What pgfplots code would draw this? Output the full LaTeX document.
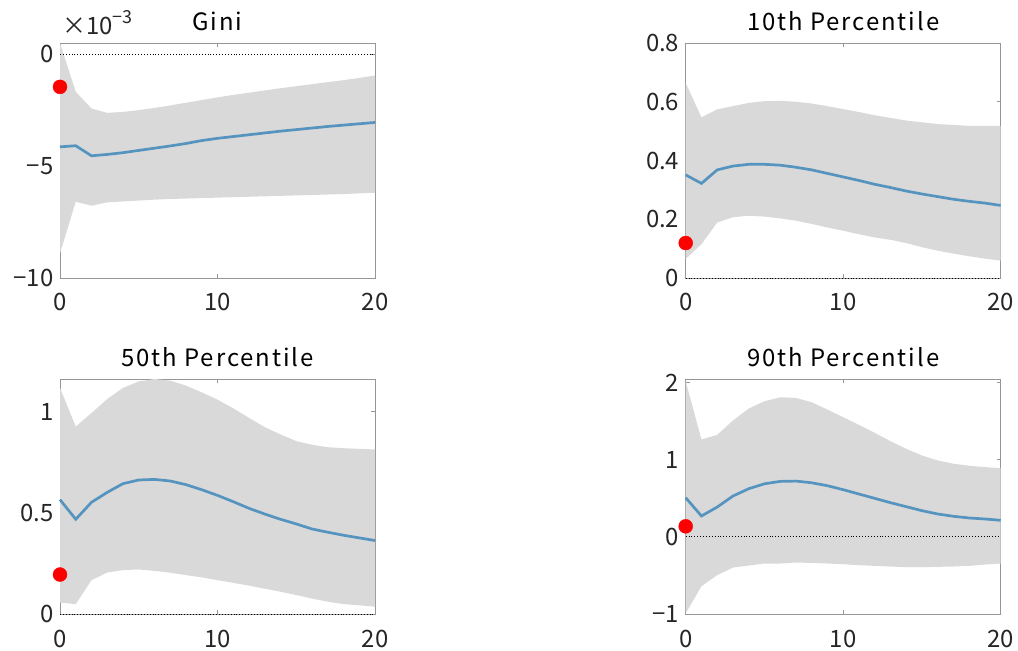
\documentclass[border=0pt]{standalone}
\usepackage{pgfplots}
\pgfplotsset{compat=1.18}
\usepgfplotslibrary{fillbetween}
\usepackage{pgfplotstable}
\usepackage{fontspec}
\setmainfont{Noto Sans CJK JP}

\definecolor{bandgray}{RGB}{217,217,217}
\definecolor{irf}{RGB}{86,148,192}
\definecolor{boxgray}{RGB}{150,150,150}
\definecolor{txt}{RGB}{38,38,38}

% impulse responses: horizon, lower band, median, upper band
% Gini in units of 1e-3
\pgfplotstableread{
t  lo     mid    hi
0  -8.90  -4.14  0.50
1  -6.59  -4.09  -1.68
2  -6.77  -4.54  -2.43
3  -6.62  -4.48  -2.62
4  -6.58  -4.40  -2.58
5  -6.54  -4.30  -2.50
6  -6.50  -4.20  -2.40
7  -6.47  -4.10  -2.29
8  -6.45  -3.99  -2.17
9  -6.43  -3.86  -2.05
10 -6.41  -3.76  -1.93
11 -6.39  -3.68  -1.82
12 -6.37  -3.60  -1.72
13 -6.35  -3.52  -1.62
14 -6.33  -3.44  -1.52
15 -6.31  -3.37  -1.43
16 -6.29  -3.30  -1.34
17 -6.27  -3.23  -1.25
18 -6.25  -3.17  -1.16
19 -6.22  -3.11  -1.06
20 -6.19  -3.05  -0.95
}\gini

\pgfplotstableread{
t  lo     mid    hi
0  0.065  0.351  0.664
1  0.115  0.322  0.547
2  0.189  0.368  0.574
3  0.207  0.381  0.585
4  0.212  0.387  0.596
5  0.209  0.387  0.602
6  0.203  0.384  0.603
7  0.195  0.377  0.600
8  0.184  0.368  0.594
9  0.172  0.356  0.585
10 0.161  0.344  0.575
11 0.149  0.332  0.565
12 0.138  0.319  0.554
13 0.130  0.308  0.545
14 0.119  0.296  0.536
15 0.105  0.286  0.530
16 0.093  0.277  0.524
17 0.083  0.268  0.521
18 0.074  0.261  0.518
19 0.066  0.255  0.518
20 0.059  0.247  0.518
}\ptenth

\pgfplotstableread{
t  lo     mid    hi
0  0.056  0.565  1.117
1  0.049  0.468  0.926
2  0.167  0.552  0.993
3  0.205  0.601  1.062
4  0.217  0.644  1.117
5  0.220  0.662  1.149
6  0.213  0.665  1.161
7  0.204  0.657  1.153
8  0.192  0.639  1.128
9  0.181  0.614  1.095
10 0.167  0.586  1.059
11 0.154  0.555  1.016
12 0.140  0.522  0.969
13 0.125  0.494  0.923
14 0.110  0.468  0.887
15 0.094  0.445  0.854
16 0.076  0.420  0.836
17 0.061  0.404  0.824
18 0.049  0.389  0.819
19 0.043  0.376  0.816
20 0.036  0.363  0.813
}\pfiftieth

\pgfplotstableread{
t  lo      mid    hi
0  -0.993  0.509  2.020
1  -0.639  0.272  1.265
2  -0.496  0.388  1.325
3  -0.397  0.531  1.511
4  -0.371  0.626  1.666
5  -0.345  0.690  1.761
6  -0.345  0.721  1.813
7  -0.332  0.725  1.804
8  -0.337  0.703  1.748
9  -0.345  0.665  1.653
10 -0.354  0.613  1.554
11 -0.367  0.557  1.454
12 -0.375  0.501  1.351
13 -0.384  0.445  1.243
14 -0.393  0.393  1.144
15 -0.393  0.341  1.057
16 -0.388  0.298  0.993
17 -0.384  0.268  0.950
18 -0.375  0.246  0.924
19 -0.358  0.233  0.906
20 -0.345  0.216  0.893
}\pninetieth

\newcommand{\tickfont}{\fontsize{24}{28}\selectfont}
\newcommand{\titlefont}{\fontsize{24}{28}\selectfont\addfontfeatures{LetterSpace=8}}

\pgfplotsset{
  irfpanel/.style={
    scale only axis, width=315bp, height=235bp,
    xmin=0, xmax=20, xtick={0,10,20}, xticklabels={0,10,20},
    axis line style={boxgray, line width=0.9bp},
    tick style={boxgray, line width=0.9bp},
    major tick length=4bp,
    tick align=inside,
    ticklabel style={font=\tickfont, text=txt},
    xticklabel style={anchor=base, yshift=-33bp},
    yticklabel style={xshift=-3bp},
    title style={font=\titlefont, text=black, at={(0.5,1)}, anchor=base, yshift=7bp},
    clip=false,
  },
}

% draws band, median, zero line and impact point from a table
\newcommand{\irfplots}[2]{%
  \addplot[name path=upper, draw=none, forget plot] table[x=t, y=hi]{#1};
  \addplot[name path=lower, draw=none, forget plot] table[x=t, y=lo]{#1};
  \addplot[fill=bandgray, draw=none] fill between[of=upper and lower];
  \addplot[black, dotted, line width=0.9bp] coordinates {(0,0) (20,0)};
  \addplot[irf, line width=2.7bp] table[x=t, y=mid]{#1};
  \addplot[only marks, mark=*, mark size=7bp, mark options={draw=red, fill=red}] coordinates {(0,#2)};
}

\begin{document}
\begin{tikzpicture}
\path (0,0) rectangle (1018bp,651bp);

\begin{axis}[irfpanel, at={(60bp,373bp)}, anchor=south west,
  title={Gini}, ymin=-10, ymax=0.5,
  ytick={-10,-5,0}, yticklabels={−10,−5,0}]
  \irfplots{\gini}{-1.46}
\end{axis}
% scale factor of the Gini axis
\node[anchor=base west, font=\tickfont, text=txt, inner sep=0pt]
  at (62bp,616bp) {×10\raisebox{0.5em}{\fontsize{18}{20}\selectfont −3}};

\begin{axis}[irfpanel, at={(685.7bp,373bp)}, anchor=south west,
  title={10th Percentile}, ymin=0, ymax=0.8,
  ytick={0,0.2,0.4,0.6,0.8}, yticklabels={0,0.2,0.4,0.6,0.8}]
  \irfplots{\ptenth}{0.119}
\end{axis}

\begin{axis}[irfpanel, at={(60bp,37bp)}, anchor=south west,
  title={50th Percentile}, ymin=0, ymax=1.161,
  ytick={0,0.5,1}, yticklabels={0,0.5,1}]
  \irfplots{\pfiftieth}{0.195}
\end{axis}

\begin{axis}[irfpanel, at={(685.7bp,37bp)}, anchor=south west,
  title={90th Percentile}, ymin=-1, ymax=2.05,
  ytick={-1,0,1,2}, yticklabels={−1,0,1,2}]
  \irfplots{\pninetieth}{0.138}
\end{axis}
\end{tikzpicture}
\end{document}
